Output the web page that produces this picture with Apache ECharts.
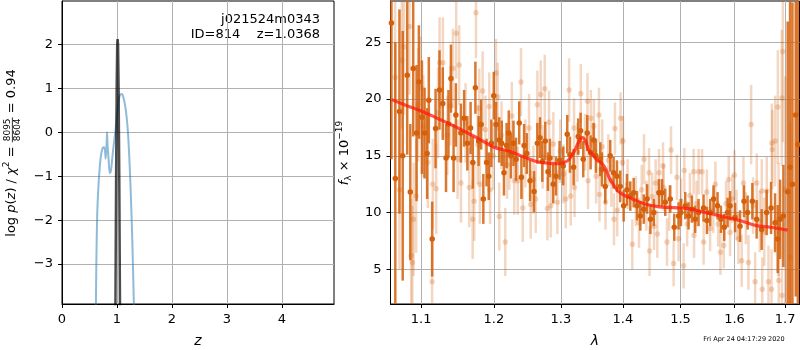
<!DOCTYPE html>
<html>
<head>
<meta charset="utf-8">
<script src="https://cdn.jsdelivr.net/npm/echarts@6/dist/echarts.min.js"></script>
<style>
  html, body { margin: 0; padding: 0; background: #fff; }
  #chart { width: 800px; height: 350px; }
</style>
</head>
<body>
<div id="chart"></div>
<script>
// left panel: log p(z) curve and the narrow peak
var pzCurve = [
  [0.615, -4.2], [0.625, -3.0], [0.64, -1.9], [0.66, -1.3], [0.68, -0.9], [0.70, -0.62],
  [0.72, -0.45], [0.74, -0.36], [0.76, -0.34], [0.78, -0.4], [0.795, -0.6], [0.81, -0.3],
  [0.82, 0.0], [0.83, -0.3], [0.85, -0.65], [0.87, -0.93], [0.89, -0.88], [0.91, -0.65],
  [0.94, -0.3], [0.97, 0.0], [1.0, 0.38], [1.03, 0.72], [1.06, 0.86], [1.09, 0.87],
  [1.12, 0.78], [1.15, 0.6], [1.18, 0.3], [1.2, 0.0], [1.22, -0.45], [1.24, -1.0],
  [1.26, -1.7], [1.28, -2.5], [1.3, -3.5], [1.315, -4.3]
];
var pzPeak = [
  [0.97, -4.5], [0.985, -1.0], [0.995, 1.0], [1.005, 2.0], [1.012, 2.12],
  [1.02, 2.0], [1.03, 1.0], [1.042, -1.0], [1.058, -4.5]
];
var zTicks = [0, 1, 2, 3, 4];
var logpTicks = [-3, -2, -1, 0, 1, 2];

// right panel: spectrum [lambda, flux, err]
var specDark = [
  [1.0616, 26.7, 12], [1.0665, 13.0, 12], [1.0718, 18.9, 9], [1.0760, 15.0, 11], [1.0818, 22.1, 7],
  [1.0858, 11.8, 6], [1.0896, 22.7, 6], [1.0940, 17.0, 6], [1.0970, 21.5, 5], [1.1010, 18.4, 5],
  [1.1045, 17.0, 4], [1.1079, 15.2, 4], [1.1101, 19.9, 3.8], [1.1146, 7.66, 3.3], [1.1191, 17.4, 3.5],
  [1.1244, 20.8, 3.5], [1.1288, 19.6, 3.2], [1.1332, 14.8, 3], [1.1365, 17.8, 3], [1.1399, 21.8, 3],
  [1.1435, 14.8, 3], [1.1466, 18.6, 2.8], [1.1535, 17.0, 2.6], [1.1580, 18.3, 2.5], [1.1625, 16.1, 2.4],
  [1.1670, 17.45, 2.3], [1.1701, 14.4, 2.3], [1.1737, 21.0, 2.3], [1.1782, 16.3, 2.2], [1.1818, 17.75, 2.2],
  [1.1849, 11.2, 2.2], [1.1895, 14.4, 2.1], [1.1926, 13.2, 2.1], [1.1963, 16.1, 2.1], [1.1998, 20.3, 2.1],
  [1.2031, 17.75, 2.0], [1.2076, 16.4, 2.0], [1.2113, 16.1, 2.0], [1.2145, 13.5, 2.0], [1.2183, 15.9, 2.0],
  [1.2215, 17.0, 2.0], [1.2247, 15.0, 2.0], [1.2284, 16.1, 2.0], [1.2322, 14.7, 1.9], [1.2369, 17.9, 1.9],
  [1.2401, 13.1, 1.9], [1.2441, 15.9, 1.9], [1.2481, 15.2, 1.8], [1.2530, 12.8, 1.8], [1.2590, 11.85, 1.8],
  [1.2640, 16.1, 1.8], [1.2680, 16.6, 1.8], [1.2715, 14.5, 1.8], [1.2760, 16.3, 1.7], [1.2801, 13.6, 1.7],
  [1.2832, 14.8, 1.7], [1.2882, 12.5, 1.7], [1.2924, 13.2, 1.7], [1.2980, 14.6, 1.7], [1.3037, 14.1, 1.7],
  [1.3100, 16.9, 1.7], [1.3142, 15.1, 1.6], [1.3200, 14.0, 1.6], [1.3273, 16.7, 1.6], [1.3311, 17.2, 1.6],
  [1.3353, 14.7, 1.6], [1.3417, 17.0, 1.6], [1.3471, 15.3, 1.5], [1.3520, 16.4, 1.5], [1.3557, 15.0, 1.5],
  [1.3627, 14.7, 1.5], [1.3655, 13.8, 1.5], [1.3709, 12.3, 1.5], [1.3791, 15.0, 1.4], [1.3847, 13.5, 1.4],
  [1.3902, 13.2, 1.4], [1.3957, 12.3, 1.4], [1.4014, 10.6, 1.4], [1.4070, 12.0, 1.4], [1.4126, 11.45, 1.3],
  [1.4183, 11.75, 1.3], [1.4240, 10.6, 1.3], [1.4296, 9.7, 1.3], [1.4355, 10.3, 1.3], [1.4413, 11.2, 1.3],
  [1.4470, 9.4, 1.3], [1.4529, 10.0, 1.2], [1.4617, 11.75, 1.2], [1.4671, 11.75, 1.2], [1.4729, 10.9, 1.2],
  [1.4817, 11.2, 1.2], [1.4888, 8.7, 1.2], [1.4965, 9.7, 1.2], [1.5008, 10.0, 1.2], [1.5085, 10.6, 1.2],
  [1.5145, 9.7, 1.2], [1.5206, 10.3, 1.2], [1.5266, 9.4, 1.2], [1.5327, 10.0, 1.2], [1.5419, 10.4, 1.2],
  [1.5482, 9.3, 1.2], [1.5543, 10.0, 1.2], [1.5605, 11.2, 1.2], [1.5680, 10.6, 1.2], [1.5743, 9.4, 1.2],
  [1.5806, 8.7, 1.2], [1.5869, 10.0, 1.3], [1.5916, 10.6, 1.3], [1.6011, 9.56, 1.3], [1.6107, 8.8, 1.4],
  [1.6184, 11.0, 1.4], [1.6254, 10.0, 1.5], [1.6346, 11.0, 1.6], [1.6430, 9.4, 1.7], [1.6529, 8.5, 1.8],
  [1.6628, 10.0, 2.0], [1.6716, 10.4, 2.3], [1.6796, 9.1, 2.6], [1.6849, 7.66, 3], [1.6897, 9.4, 3.5],
  [1.6964, 9.7, 4.5], [1.7052, 11.84, 15], [1.7100, 14.0, 16], [1.7148, 12.5, 16], [1.7216, 18.6, 16],
  [1.7260, 16.0, 16]
];
var specLight = [
  [1.0663, 21.9, 7], [1.0718, 12.0, 7], [1.0749, 23.4, 6], [1.0775, 24.6, 6], [1.0848, 26.4, 6],
  [1.0869, 6.2, 5], [1.0885, 5.6, 5], [1.0900, 9.4, 5], [1.0934, 11.45, 5], [1.0960, 19.5, 5],
  [1.0996, 21.0, 4.5], [1.1030, 17.6, 4.5], [1.1088, 14.4, 4], [1.1145, 3.9, 4], [1.1155, 12.5, 4],
  [1.1200, 12.1, 4], [1.1225, 18.8, 4], [1.1245, 23.2, 4], [1.1290, 23.2, 4], [1.1350, 16.8, 3.5],
  [1.1390, 19.4, 3.5], [1.1426, 22.7, 3.5], [1.1471, 25.8, 4], [1.1490, 14.7, 3.5], [1.1512, 23.0, 3.5],
  [1.1536, 12.6, 3.5], [1.1600, 17.9, 3.5], [1.1651, 12.2, 3.5], [1.1699, 9.4, 3.5], [1.1721, 11.0, 3.5],
  [1.1745, 27.6, 4], [1.1770, 16.0, 3.5], [1.1792, 19.2, 3.5], [1.1800, 12.5, 3.5], [1.1839, 20.7, 3.5],
  [1.1880, 17.3, 3], [1.1934, 19.35, 3], [1.1945, 12.0, 3], [1.1990, 15.0, 3], [1.2030, 22.3, 3],
  [1.2054, 20.2, 3], [1.2077, 9.65, 3], [1.2110, 16.8, 3], [1.2164, 7.4, 3], [1.2190, 14.2, 3],
  [1.2223, 15.0, 3], [1.2260, 18.5, 3], [1.2296, 12.8, 3], [1.2347, 12.8, 3], [1.2395, 21.5, 3],
  [1.2421, 10.4, 3], [1.2460, 15.2, 3], [1.2515, 17.45, 3], [1.2540, 10.7, 3], [1.2580, 12.9, 3],
  [1.2615, 11.2, 3], [1.2640, 19.5, 3], [1.2692, 20.4, 3], [1.2720, 14.9, 2.8], [1.2752, 20.9, 3],
  [1.2792, 10.35, 2.8], [1.2818, 17.95, 2.8], [1.2844, 10.6, 2.8], [1.2884, 16.05, 2.8], [1.2946, 10.9, 2.8],
  [1.2990, 15.4, 2.8], [1.3040, 13.4, 2.6], [1.3077, 11.2, 2.6], [1.3129, 20.8, 2.8], [1.3155, 11.45, 2.6],
  [1.3207, 17.45, 2.6], [1.3215, 12.2, 2.6], [1.3260, 15.3, 2.6], [1.3314, 20.5, 2.6], [1.3380, 16.2, 2.5],
  [1.3421, 19.8, 2.5], [1.3430, 12.8, 2.5], [1.3475, 18.3, 2.5], [1.3524, 17.6, 2.4], [1.3560, 13.2, 2.4],
  [1.3606, 18.6, 2.4], [1.3615, 11.6, 2.4], [1.3660, 15.8, 2.4], [1.3713, 10.9, 2.4], [1.3760, 14.6, 2.3],
  [1.3810, 12.8, 2.3], [1.3853, 9.4, 2.3], [1.3869, 17.4, 2.3], [1.3907, 10.2, 2.3], [1.3963, 18.3, 2.3],
  [1.3991, 14.4, 2.2], [1.4003, 16.3, 2.2], [1.4080, 12.5, 2.2], [1.4160, 7.2, 2.2], [1.4220, 11.0, 2.2],
  [1.4274, 9.1, 2.2], [1.4320, 12.0, 2.2], [1.4360, 14.7, 2.2], [1.4400, 10.6, 2.2], [1.4446, 13.5, 2.2],
  [1.4455, 6.6, 2.2], [1.4500, 11.4, 2.1], [1.4533, 8.8, 2.1], [1.4561, 12.6, 2.1], [1.4590, 8.1, 2.1],
  [1.4620, 13.5, 2.1], [1.4690, 14.1, 2.1], [1.4700, 12.2, 2.1], [1.4760, 7.4, 2.1], [1.4800, 10.4, 2.0],
  [1.4831, 15.5, 2.1], [1.4877, 5.5, 2.0], [1.4937, 13.1, 2.0], [1.4966, 7.7, 2.0], [1.5010, 11.0, 2.0],
  [1.5056, 5.3, 2.0], [1.5069, 13.7, 2.0], [1.5120, 9.0, 2.0], [1.5170, 11.5, 2.0], [1.5237, 13.6, 2.0],
  [1.5245, 8.0, 2.0], [1.5290, 10.8, 2.0], [1.5329, 13.6, 2.0], [1.5392, 13.6, 2.0], [1.5421, 7.4, 2.0],
  [1.5480, 11.8, 2.0], [1.5540, 8.6, 2.0], [1.5600, 10.2, 2.0], [1.5639, 12.5, 2.0], [1.5690, 9.0, 2.0],
  [1.5733, 6.5, 2.0], [1.5796, 7.1, 2.0], [1.5840, 10.8, 2.0], [1.5891, 12.9, 2.1], [1.5916, 8.25, 2.1],
  [1.5960, 11.2, 2.1], [1.6000, 13.3, 2.2], [1.6040, 9.8, 2.2], [1.6076, 7.66, 2.2], [1.6139, 5.75, 2.3],
  [1.6173, 12.6, 2.3], [1.6220, 9.5, 2.3], [1.6270, 5.6, 2.4], [1.6322, 17.75, 3.5], [1.6360, 10.6, 2.5],
  [1.6400, 3.9, 2.6], [1.6432, 12.6, 2.6], [1.6490, 9.2, 2.7], [1.6531, 11.9, 2.8], [1.6540, 3.25, 2.8],
  [1.6580, 8.3, 3], [1.6630, 11.9, 3], [1.6664, 3.9, 3.2], [1.6725, 3.25, 3.5], [1.6731, 16.1, 3.5],
  [1.6740, 15.55, 3.5], [1.6798, 16.3, 4], [1.6852, 19.3, 5], [1.6866, 9.4, 5], [1.6870, 4.0, 5],
  [1.6932, 20.1, 6], [1.6935, 2.7, 6], [1.6953, 24.2, 8], [1.7000, 12.0, 10], [1.7104, 6.05, 12]
];
var specModel = [
  [1.062, 19.95], [1.08, 19.45], [1.10, 18.95], [1.12, 18.35], [1.14, 17.75], [1.16, 17.1],
  [1.18, 16.45], [1.20, 15.75], [1.22, 15.45], [1.244, 14.9], [1.265, 14.45], [1.28, 14.35],
  [1.295, 14.3], [1.305, 14.4], [1.313, 14.7], [1.322, 15.5], [1.328, 16.2], [1.334, 16.6],
  [1.339, 16.3], [1.344, 15.5], [1.35, 15.1], [1.358, 14.6], [1.366, 14.3], [1.372, 13.8],
  [1.378, 13.0], [1.385, 12.4], [1.392, 11.9], [1.403, 11.5], [1.416, 11.2], [1.438, 10.75],
  [1.462, 10.5], [1.48, 10.45], [1.50, 10.4], [1.52, 10.3], [1.537, 10.1], [1.56, 9.85],
  [1.586, 9.56], [1.61, 9.3], [1.6425, 8.85], [1.67, 8.7], [1.705, 8.45]
];
var lamTicks = [1.1, 1.2, 1.3, 1.4, 1.5, 1.6, 1.7];
var fluxTicks = [5, 10, 15, 20, 25];
var lamRange = [1.0604, 1.7294];

var FONT = 'DejaVu Sans';
var ORANGE = '#d5600c';

var chart = echarts.init(document.getElementById('chart'), null, { renderer: 'canvas' });

// the wavelength axis is logarithmic: plot ln(lambda) on a value axis
function ln(v) { return Math.log(v); }

function errorBars(data, color, width, opacity) {
  return {
    type: 'custom', xAxisIndex: 1, yAxisIndex: 1, clip: true, silent: true,
    data: data.map(function (d) { return [ln(d[0]), d[1] - d[2], d[1] + d[2]]; }),
    encode: { x: 0, y: [1, 2] },
    renderItem: function (params, api) {
      var lo = api.coord([api.value(0), api.value(1)]);
      var hi = api.coord([api.value(0), api.value(2)]);
      return {
        type: 'line',
        shape: { x1: lo[0], y1: lo[1], x2: hi[0], y2: hi[1] },
        style: { stroke: color, lineWidth: width, opacity: opacity }
      };
    }
  };
}

function dots(data, color, size, opacity) {
  return {
    type: 'scatter', xAxisIndex: 1, yAxisIndex: 1, silent: true,
    symbol: 'circle', symbolSize: size,
    itemStyle: { color: color, opacity: opacity },
    data: data.map(function (d) { return [ln(d[0]), d[1]]; })
  };
}

var tickLabel = { color: '#000', fontFamily: FONT, fontSize: 13, margin: 9 };
var gridLine = { show: true, lineStyle: { color: '#b0b0b0', width: 1 } };
var axisTick = { show: true, inside: false, length: 4, lineStyle: { color: '#000' } };
var axisLine = { show: true, onZero: false, lineStyle: { color: '#000', width: 1 } };

// measuring text for the hand-set math labels
var ctx = document.createElement('canvas').getContext('2d');
function textWidth(str, font) { ctx.font = font; return ctx.measureText(str).width; }

function mathLabel(pieces, cx, cy) {
  // pieces laid out along the text direction, then rotated to read upwards
  var x = 0, children = [];
  pieces.forEach(function (p) {
    var font = (p.italic ? 'italic ' : '') + p.size + 'px "' + FONT + '"';
    if (p.frac) {
      var w = Math.max(textWidth(p.num, font), textWidth(p.den, font)) + 2;
      children.push({ type: 'text', x: x + w / 2, y: -4.5,
        style: { text: p.num, font: font, fill: '#000', align: 'center', verticalAlign: 'middle' } });
      children.push({ type: 'text', x: x + w / 2, y: 5.2,
        style: { text: p.den, font: font, fill: '#000', align: 'center', verticalAlign: 'middle' } });
      children.push({ type: 'line', shape: { x1: x, y1: 0.4, x2: x + w, y2: 0.4 },
        style: { stroke: '#000', lineWidth: 0.8 } });
      x += w;
    } else {
      children.push({ type: 'text', x: x, y: p.dy || 0,
        style: { text: p.text, font: font, fill: '#000', align: 'left', verticalAlign: 'middle' } });
      x += textWidth(p.text, font);
    }
  });
  children.forEach(function (c) {
    if (c.type === 'text') c.x -= x / 2;
    else { c.shape.x1 -= x / 2; c.shape.x2 -= x / 2; }
  });
  return { type: 'group', x: cx, y: cy, rotation: Math.PI / 2, children: children };
}

var option = {
  animation: false,
  backgroundColor: '#fff',
  grid: [
    { left: 62, top: 1, width: 272, height: 303, show: true, borderColor: '#000', borderWidth: 1,
      containLabel: false, outerBoundsMode: 'none' },
    { left: 390.5, top: 1, width: 409, height: 303, show: true, borderColor: '#000', borderWidth: 1,
      containLabel: false, outerBoundsMode: 'none' }
  ],
  xAxis: [
    {
      gridIndex: 0, type: 'value', min: 0, max: 4.95,
      axisLine: axisLine,
      axisTick: Object.assign({}, axisTick, { customValues: zTicks }),
      splitLine: gridLine,
      axisLabel: Object.assign({}, tickLabel, { customValues: zTicks }),
      name: 'z', nameLocation: 'middle', nameGap: 30,
      nameTextStyle: { fontFamily: FONT, fontSize: 14, fontStyle: 'italic', color: '#000' }
    },
    {
      gridIndex: 1, type: 'value', min: ln(lamRange[0]), max: ln(lamRange[1]),
      axisLine: axisLine,
      axisTick: Object.assign({}, axisTick, { customValues: lamTicks.map(ln) }),
      splitLine: gridLine,
      axisLabel: Object.assign({}, tickLabel, {
        customValues: lamTicks.map(ln),
        formatter: function (v) { return Math.exp(v).toFixed(1); }
      }),
      name: 'λ', nameLocation: 'middle', nameGap: 30,
      nameTextStyle: { fontFamily: FONT, fontSize: 14, fontStyle: 'italic', color: '#000' }
    }
  ],
  yAxis: [
    {
      gridIndex: 0, type: 'value', min: -3.91, max: 2.99,
      axisLine: axisLine,
      axisTick: Object.assign({}, axisTick, { customValues: logpTicks }),
      splitLine: gridLine,
      axisLabel: Object.assign({}, tickLabel, {
        customValues: logpTicks,
        formatter: function (v) { return v < 0 ? '\u2212' + Math.abs(v) : String(v); }
      })
    },
    {
      gridIndex: 1, type: 'value', min: 1.94, max: 28.64,
      axisLine: axisLine,
      axisTick: Object.assign({}, axisTick, { customValues: fluxTicks }),
      splitLine: gridLine,
      axisLabel: Object.assign({}, tickLabel, { customValues: fluxTicks })
    }
  ],
  series: [
    {
      type: 'line', xAxisIndex: 0, yAxisIndex: 0, data: pzCurve, showSymbol: false, silent: true,
      smooth: 0.3, lineStyle: { color: '#1f77b4', opacity: 0.5, width: 2 }, clip: true
    },
    {
      type: 'line', xAxisIndex: 0, yAxisIndex: 0, data: pzPeak, showSymbol: false, silent: true,
      lineStyle: { color: '#000', opacity: 0.7, width: 2.5 }, clip: true
    },
    errorBars(specDark, ORANGE, 2.5, 0.85),
    dots(specDark, ORANGE, 5.5, 1),
    errorBars(specLight, ORANGE, 2.5, 0.25),
    dots(specLight, ORANGE, 5.5, 0.25),
    {
      type: 'line', xAxisIndex: 1, yAxisIndex: 1, showSymbol: false, silent: true, smooth: 0.4,
      data: specModel.map(function (d) { return [ln(d[0]), d[1]]; }),
      lineStyle: { color: '#ff1a0a', opacity: 0.75, width: 3.2 }
    }
  ],
  graphic: [
    { type: 'text', x: 320, y: 20, style: { text: 'j021524m0343', font: '13px "' + FONT + '"', fill: '#000', align: 'right', verticalAlign: 'middle' } },
    { type: 'text', x: 320, y: 35, style: { text: 'ID=814    z=1.0368', font: '13px "' + FONT + '"', fill: '#000', align: 'right', verticalAlign: 'middle' } },
    { type: 'text', x: 744, y: 339, style: { text: 'Fri Apr 24 04:17:29 2020', font: '6.5px "' + FONT + '"', fill: '#000', align: 'center', verticalAlign: 'middle' } },
    mathLabel([
      { text: 'log ', size: 13 }, { text: 'p', size: 13, italic: true }, { text: '(', size: 13 },
      { text: 'z', size: 13, italic: true }, { text: ') / ', size: 13 }, { text: 'χ', size: 13, italic: true },
      { text: '2', size: 9, dy: -5 }, { text: ' = ', size: 13 },
      { frac: true, num: '8095', den: '8604', size: 9 },
      { text: ' = 0.94', size: 13 }
    ], 12, 153),
    mathLabel([
      { text: 'f', size: 13, italic: true }, { text: 'λ', size: 9, dy: 4 },
      { text: ' × 10', size: 13 }, { text: '\u221219', size: 9, dy: -5 }
    ], 345, 153)
  ]
};

chart.setOption(option);
</script>
</body>
</html>
